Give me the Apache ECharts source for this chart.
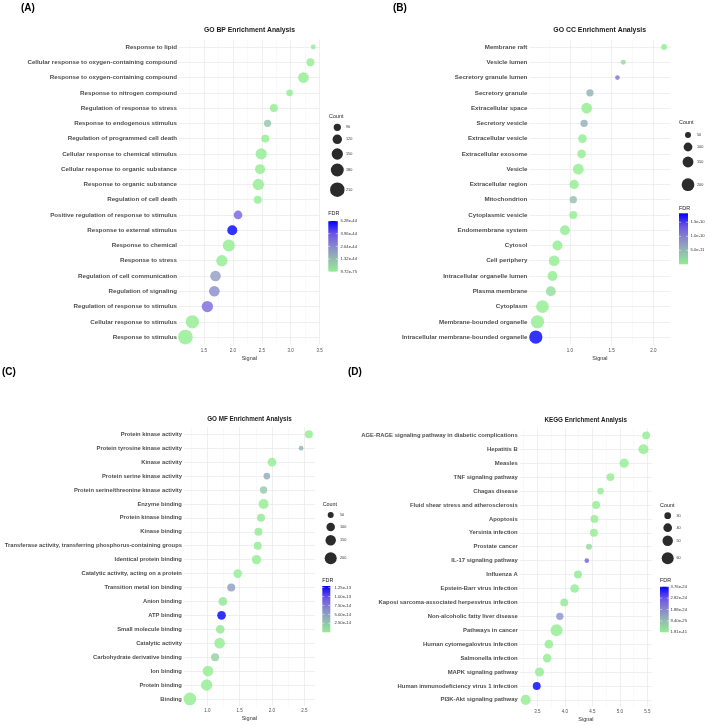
<!DOCTYPE html>
<html><head><meta charset="utf-8">
<script src="https://cdn.jsdelivr.net/npm/echarts@6/dist/echarts.min.js"></script>
<style>html,body{margin:0;padding:0;background:#fff}#c{width:708px;height:725px}</style>
</head><body><div id="c"></div>
<script>
// ---------- (A) GO BP ----------
const bpTerms = ['Response to lipid','Cellular response to oxygen-containing compound','Response to oxygen-containing compound','Response to nitrogen compound','Regulation of response to stress','Response to endogenous stimulus','Regulation of programmed cell death','Cellular response to chemical stimulus','Cellular response to organic substance','Response to organic substance','Regulation of cell death','Positive regulation of response to stimulus','Response to external stimulus','Response to chemical','Response to stress','Regulation of cell communication','Regulation of signaling','Regulation of response to stimulus','Cellular response to stimulus','Response to stimulus'];
const bpSignal = [3.39,3.34,3.22,2.98,2.71,2.60,2.56,2.49,2.47,2.44,2.43,2.09,1.99,1.93,1.81,1.70,1.68,1.56,1.30,1.18];
const bpCount = [62,99,140,82,99,90,99,150,129,150,99,109,129,163,150,140,140,150,186,214];
const bpFDR = [1.5e-46,3.1e-47,1.9e-54,6.4e-47,1.2e-47,1.1e-44,4.5e-47,2.3e-57,8.8e-55,3.7e-58,2.6e-46,3.6e-44,5.28e-44,6.1e-62,1.4e-60,2.1e-44,2.6e-44,3.4e-44,5.2e-71,9.72e-75];
const bpXTicks = [1.5,2.0,2.5,3.0,3.5];
const bpCountTicks = [90,120,150,180,210];
const bpFDRTicks = [5.28e-44,3.96e-44,2.64e-44,1.32e-44,9.72e-75];

// ---------- (B) GO CC ----------
const ccTerms = ['Membrane raft','Vesicle lumen','Secretory granule lumen','Secretory granule','Extracellular space','Secretory vesicle','Extracellular vesicle','Extracellular exosome','Vesicle','Extracellular region','Mitochondrion','Cytoplasmic vesicle','Endomembrane system','Cytosol','Cell periphery','Intracellular organelle lumen','Plasma membrane','Cytoplasm','Membrane-bounded organelle','Intracellular membrane-bounded organelle'];
const ccSignal = [2.13,1.64,1.57,1.24,1.20,1.17,1.15,1.14,1.10,1.05,1.04,1.04,0.94,0.85,0.81,0.79,0.77,0.67,0.61,0.59];
const ccCount = [50,36,32,71,145,71,98,98,145,111,71,84,127,127,145,127,127,200,218,218];
const ccFDR = [4e-13,2.0e-11,1.1e-10,5.5e-11,1e-15,5.8e-11,3e-14,2e-14,5e-15,1e-16,4.5e-11,6e-13,8e-13,1e-14,2e-13,3e-13,1.5e-11,1e-16,1e-15,1.82e-10];
const ccXTicks = [1.0,1.5,2.0];
const ccCountTicks = [50,100,150,200];
const ccFDRTicks = [1.5e-10,1.0e-10,5.0e-11];

// ---------- (C) GO MF ----------
const mfTerms = ['Protein kinase activity','Protein tyrosine kinase activity','Kinase activity','Protein serine kinase activity','Protein serine/threonine kinase activity','Enzyme binding','Protein kinase binding','Kinase binding','Transferase activity, transferring phosphorus-containing groups','Identical protein binding','Catalytic activity, acting on a protein','Transition metal ion binding','Anion binding','ATP binding','Small molecule binding','Catalytic activity','Carbohydrate derivative binding','Ion binding','Protein binding','Binding'];
const mfSignal = [2.57,2.45,2.00,1.92,1.87,1.87,1.83,1.79,1.78,1.76,1.47,1.37,1.24,1.22,1.20,1.19,1.12,1.01,0.99,0.73];
const mfCount = [89,31,105,62,74,139,89,89,89,120,105,89,105,105,105,159,89,159,177,224];
const mfFDR = [3e-16,3.9e-14,2e-16,4.5e-14,2.6e-14,5e-17,4e-15,2e-15,1e-15,3e-17,6e-16,5.2e-14,5e-15,1.29e-13,3e-15,1e-16,1.9e-14,2e-17,1e-18,1e-19];
const mfXTicks = [1.0,1.5,2.0,2.5];
const mfCountTicks = [50,100,150,200];
const mfFDRTicks = [1.25e-13,1.0e-13,7.5e-14,5.0e-14,2.5e-14];

// ---------- (D) KEGG ----------
const kgTerms = ['AGE-RAGE signaling pathway in diabetic complications','Hepatitis B','Measles','TNF signaling pathway','Chagas disease','Fluid shear stress and atherosclerosis','Apoptosis','Yersinia infection','Prostate cancer','IL-17 signaling pathway','Influenza A','Epstein-Barr virus infection','Kaposi sarcoma-associated herpesvirus infection','Non-alcoholic fatty liver disease','Pathways in cancer','Human cytomegalovirus infection','Salmonella infection','MAPK signaling pathway','Human immunodeficiency virus 1 infection','PI3K-Akt signaling pathway'];
const kgSignal = [5.48,5.43,5.08,4.83,4.65,4.57,4.54,4.53,4.44,4.40,4.24,4.18,3.99,3.91,3.85,3.71,3.68,3.54,3.49,3.29];
const kgCount = [36,48,43,36,30,36,36,36,27,21,36,40,36,33,60,40,40,43,36,48];
const kgFDR = [2e-27,5e-30,1e-28,3e-27,4e-26,6e-27,8e-27,5e-27,4e-25,2.6e-24,7e-26,2e-26,9e-26,1.7e-24,1.81e-41,3e-28,1e-26,2e-27,3.76e-24,4e-30];
const kgXTicks = [3.5,4.0,4.5,5.0,5.5];
const kgCountTicks = [30,40,50,60];
const kgFDRTicks = [3.76e-24,2.82e-24,1.88e-24,9.40e-25,1.81e-41];

const ramp = ['#90ee90','#94bbb1','#8988cd','#6b53e7','#0000ff'];
const FONT = 'Liberation Sans, Arial, sans-serif';

const panels = [
 {title:'GO BP Enrichment Analysis', letter:'(A)', terms:bpTerms, signal:bpSignal, count:bpCount, fdr:bpFDR, xTicks:bpXTicks, countTicks:bpCountTicks, fdrTicks:bpFDRTicks, digits:2,
  L:{left:179, top:39.4, width:140.7, height:305.3, titleX:249.5, titleY:30.3, titleSize:6.8, labelSize:6.2, splitNumber:5, tickMargin:4, nameGap:10.5,
     sa:-6.36, sb:1.44, countX:329, countY:116.3, circX:337.3, circYs:[127.3,139.3,154,170,189.7], countLabX:346,
     fdrX:328.3, fdrTitleY:213.3, barTop:221, barBottom:271.7, barW:9.5, fdrLabX:340.5, letterX:21, letterY:8}},
 {title:'GO CC Enrichment Analysis', letter:'(B)', terms:ccTerms, signal:ccSignal, count:ccCount, fdr:ccFDR, xTicks:ccXTicks, countTicks:ccCountTicks, fdrTicks:ccFDRTicks, digits:1,
  L:{left:529.4, top:39.4, width:141.1, height:305.3, titleX:599.7, titleY:30.3, titleSize:6.9, labelSize:6.2, splitNumber:3, tickMargin:4, nameGap:10.5,
     sa:-0.70, sb:0.948, countX:679, countY:123, circX:688, circYs:[135,147,162,184.7], countLabX:697,
     fdrX:679, fdrTitleY:208.3, barTop:213.3, barBottom:264.3, barW:9, fdrLabX:690.5, letterX:393, letterY:8}},
 {title:'GO MF Enrichment Analysis', letter:'(C)', terms:mfTerms, signal:mfSignal, count:mfCount, fdr:mfFDR, xTicks:mfXTicks, countTicks:mfCountTicks, fdrTicks:mfFDRTicks, digits:2,
  L:{left:183.9, top:427.3, width:130.9, height:278.6, titleX:249.5, titleY:419.3, titleSize:6.3, labelSize:5.8, splitNumber:5, tickMargin:2.6, nameGap:9.6,
     sa:0, sb:0.849, countX:322.7, countY:504.3, circX:330.7, circYs:[515,527,540.3,558.3], countLabX:340,
     fdrX:322.3, fdrTitleY:580.7, barTop:586, barBottom:632.3, barW:8, fdrLabX:334.5, letterX:2, letterY:372}},
 {title:'KEGG Enrichment Analysis', letter:'(D)', terms:kgTerms, signal:kgSignal, count:kgCount, fdr:kgFDR, xTicks:kgXTicks, countTicks:kgCountTicks, fdrTicks:kgFDRTicks, digits:2,
  L:{left:519.7, top:428.4, width:132.5, height:278.4, titleX:585.7, titleY:420.3, titleSize:6.3, labelSize:5.9, splitNumber:5, tickMargin:2.6, nameGap:9.8,
     sa:-6.09, sb:2.335, countX:660, countY:505.3, circX:667.7, circYs:[515.7,527.7,540.7,558.3], countLabX:676.5,
     fdrX:660, fdrTitleY:581, barTop:586.7, barBottom:632.3, barW:8.7, fdrLabX:670.5, letterX:348, letterY:372}}
];

const grids=[], xAxes=[], yAxes=[], series=[], visualMaps=[], graphics=[];
panels.forEach((p,i)=>{
  const L = p.L;
  grids.push({left:L.left, top:L.top, width:L.width, height:L.height});
  xAxes.push({type:'value', gridIndex:i,
    min: v => v.min - 0.05*(v.max - v.min), max: v => v.max + 0.05*(v.max - v.min),
    splitNumber:L.splitNumber,
    axisLine:{show:false}, axisTick:{show:false},
    axisLabel:{fontSize:4.5, color:'#4d4d4d', margin:L.tickMargin, fontFamily:FONT,
      formatter: v => p.xTicks.some(t => Math.abs(t - v) < 1e-6) ? v.toFixed(1) : ''},
    splitLine:{show:true, showMinLine:false, showMaxLine:false, lineStyle:{color:'#e8e8e8', width:0.7}},
    minorTick:{show:false, splitNumber:2},
    minorSplitLine:{show:true, lineStyle:{color:'#f2f2f2', width:0.5}},
    name:'Signal', nameLocation:'middle', nameGap:L.nameGap,
    nameTextStyle:{fontSize:5.5, color:'#333', fontFamily:FONT}
  });
  yAxes.push({type:'category', gridIndex:i, data:p.terms, inverse:true,
    axisLine:{show:false}, axisTick:{show:false},
    axisLabel:{fontSize:L.labelSize, fontWeight:'bold', color:'#4d4d4d', margin:2, interval:0, fontFamily:FONT},
    splitLine:{show:true, alignWithLabel:true, interval:0, lineStyle:{color:'#e8e8e8', width:0.7}}
  });
  series.push({type:'scatter', xAxisIndex:i, yAxisIndex:i,
    data: p.terms.map((t,j) => [p.signal[j], t, p.count[j], p.fdr[j]]),
    symbolSize: d => L.sa + L.sb*Math.sqrt(d[2]),
    itemStyle:{opacity:0.8}, emphasis:{disabled:true}, silent:true, z:3
  });
  const fmin = Math.min(...p.fdr), fmax = Math.max(...p.fdr);
  visualMaps.push({type:'continuous', show:false, seriesIndex:i, dimension:3, min:fmin, max:fmax, inRange:{color:ramp}});

  // panel letter & title
  graphics.push({type:'text', x:L.letterX, y:L.letterY, style:{text:p.letter, font:'bold 10px '+FONT, fill:'#000', verticalAlign:'middle', align:'left'}});
  graphics.push({type:'text', x:L.titleX, y:L.titleY, style:{text:p.title, font:'bold '+L.titleSize+'px '+FONT, fill:'#1a1a1a', align:'center', verticalAlign:'middle'}});

  // size legend
  graphics.push({type:'text', x:L.countX, y:L.countY, style:{text:'Count', font:'5.4px '+FONT, fill:'#1a1a1a', align:'left', verticalAlign:'middle'}});
  p.countTicks.forEach((c,k)=>{
    const d = L.sa + L.sb*Math.sqrt(c);
    graphics.push({type:'circle', shape:{cx:L.circX, cy:L.circYs[k], r:d/2}, style:{fill:'#2b2b2b'}});
    graphics.push({type:'text', x:L.countLabX, y:L.circYs[k], style:{text:String(c), font:'3.8px '+FONT, fill:'#333', align:'left', verticalAlign:'middle'}});
  });

  // FDR colorbar
  graphics.push({type:'text', x:L.fdrX, y:L.fdrTitleY, style:{text:'FDR', font:'5.4px '+FONT, fill:'#1a1a1a', align:'left', verticalAlign:'middle'}});
  graphics.push({type:'rect', shape:{x:L.fdrX, y:L.barTop, width:L.barW, height:L.barBottom-L.barTop},
    style:{fill:new echarts.graphic.LinearGradient(0,0,0,1,[
      {offset:0,color:ramp[4]},{offset:0.25,color:ramp[3]},{offset:0.5,color:ramp[2]},{offset:0.75,color:ramp[1]},{offset:1,color:ramp[0]}])}});
  p.fdrTicks.forEach(v=>{
    const y = L.barBottom - (v - fmin)/(fmax - fmin)*(L.barBottom - L.barTop);
    graphics.push({type:'line', shape:{x1:L.fdrX, y1:y, x2:L.fdrX+2, y2:y}, style:{stroke:'#fff', lineWidth:0.5}});
    graphics.push({type:'line', shape:{x1:L.fdrX+L.barW-2, y1:y, x2:L.fdrX+L.barW, y2:y}, style:{stroke:'#fff', lineWidth:0.5}});
    graphics.push({type:'text', x:L.fdrLabX, y:y, style:{text:v.toExponential(p.digits), font:'4.2px '+FONT, fill:'#333', align:'left', verticalAlign:'middle'}});
  });
});

const chart = echarts.init(document.getElementById('c'), null, {renderer:'canvas', width:708, height:725});
chart.setOption({
  animation:false,
  backgroundColor:'#fff',
  textStyle:{fontFamily:FONT},
  grid:grids, xAxis:xAxes, yAxis:yAxes, series:series, visualMap:visualMaps,
  graphic:{elements:graphics}
});
</script>
</body></html>
